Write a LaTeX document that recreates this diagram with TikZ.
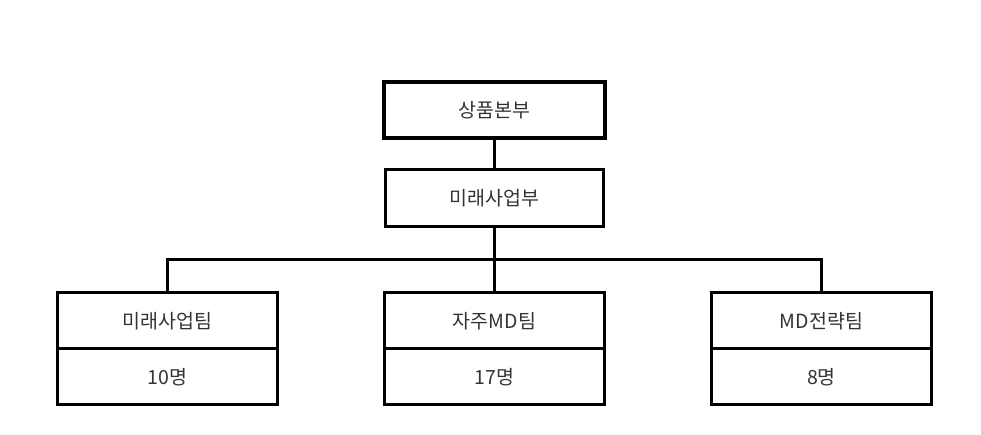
\documentclass[tikz,border=0pt]{standalone}
\usepackage{fontspec}
\setmainfont{Noto Sans CJK KR}
\usetikzlibrary{positioning}
\definecolor{textgray}{HTML}{333333}

\begin{document}
\begin{tikzpicture}[
  x=1pt, y=1pt,
  node distance=32pt and 107pt,
  headBox/.style={draw=black, line width=4.5pt, minimum width=221pt, minimum height=56pt, outer sep=0pt, font=\fontsize{19.5}{22}\selectfont\color{textgray}},
  divBox/.style={draw=black, line width=3pt, minimum width=218pt, minimum height=57pt, outer sep=0pt, font=\fontsize{19.5}{22}\selectfont\color{textgray}},
  teamBox/.style={draw=black, line width=3pt, minimum width=220pt, minimum height=56pt, outer sep=0pt, font=\fontsize{19.5}{22}\selectfont\color{textgray}},
  link/.style={draw=black, line width=3pt},
  thinLink/.style={draw=black, line width=2.2pt}
]
\useasboundingbox (0,0) rectangle (981,435);

% Top levels
\node[headBox] (hq) at (494.5,325) {상품본부};
\node[divBox, below=32pt of hq] (future) {미래사업부};

% Teams
\node[teamBox] (teamOwn) at (494.5,114) {자주MD팀};
\node[teamBox, below=0pt of teamOwn] (countOwn) {17명};
\node[teamBox, left=107pt of teamOwn] (teamFuture) {미래사업팀};
\node[teamBox, below=0pt of teamFuture] (countFuture) {10명};
\node[teamBox, right=107pt of teamOwn] (teamMD) {MD전략팀};
\node[teamBox, below=0pt of teamMD] (countMD) {8명};

% Connectors
\draw[link] (hq.south) -- (future.north);
\draw[link] (future.south) -- ++(0,-33) coordinate (bus);
\draw[link] (bus) -- (teamOwn.north);
\coordinate (busLeft) at (teamFuture.north |- bus);
\coordinate (busRight) at (teamMD.north |- bus);
\draw[link, line cap=rect] (busLeft) -- (busRight);
\draw[thinLink] (busLeft) -- (teamFuture.north);
\draw[thinLink] (busRight) -- (teamMD.north);

\end{tikzpicture}
\end{document}
